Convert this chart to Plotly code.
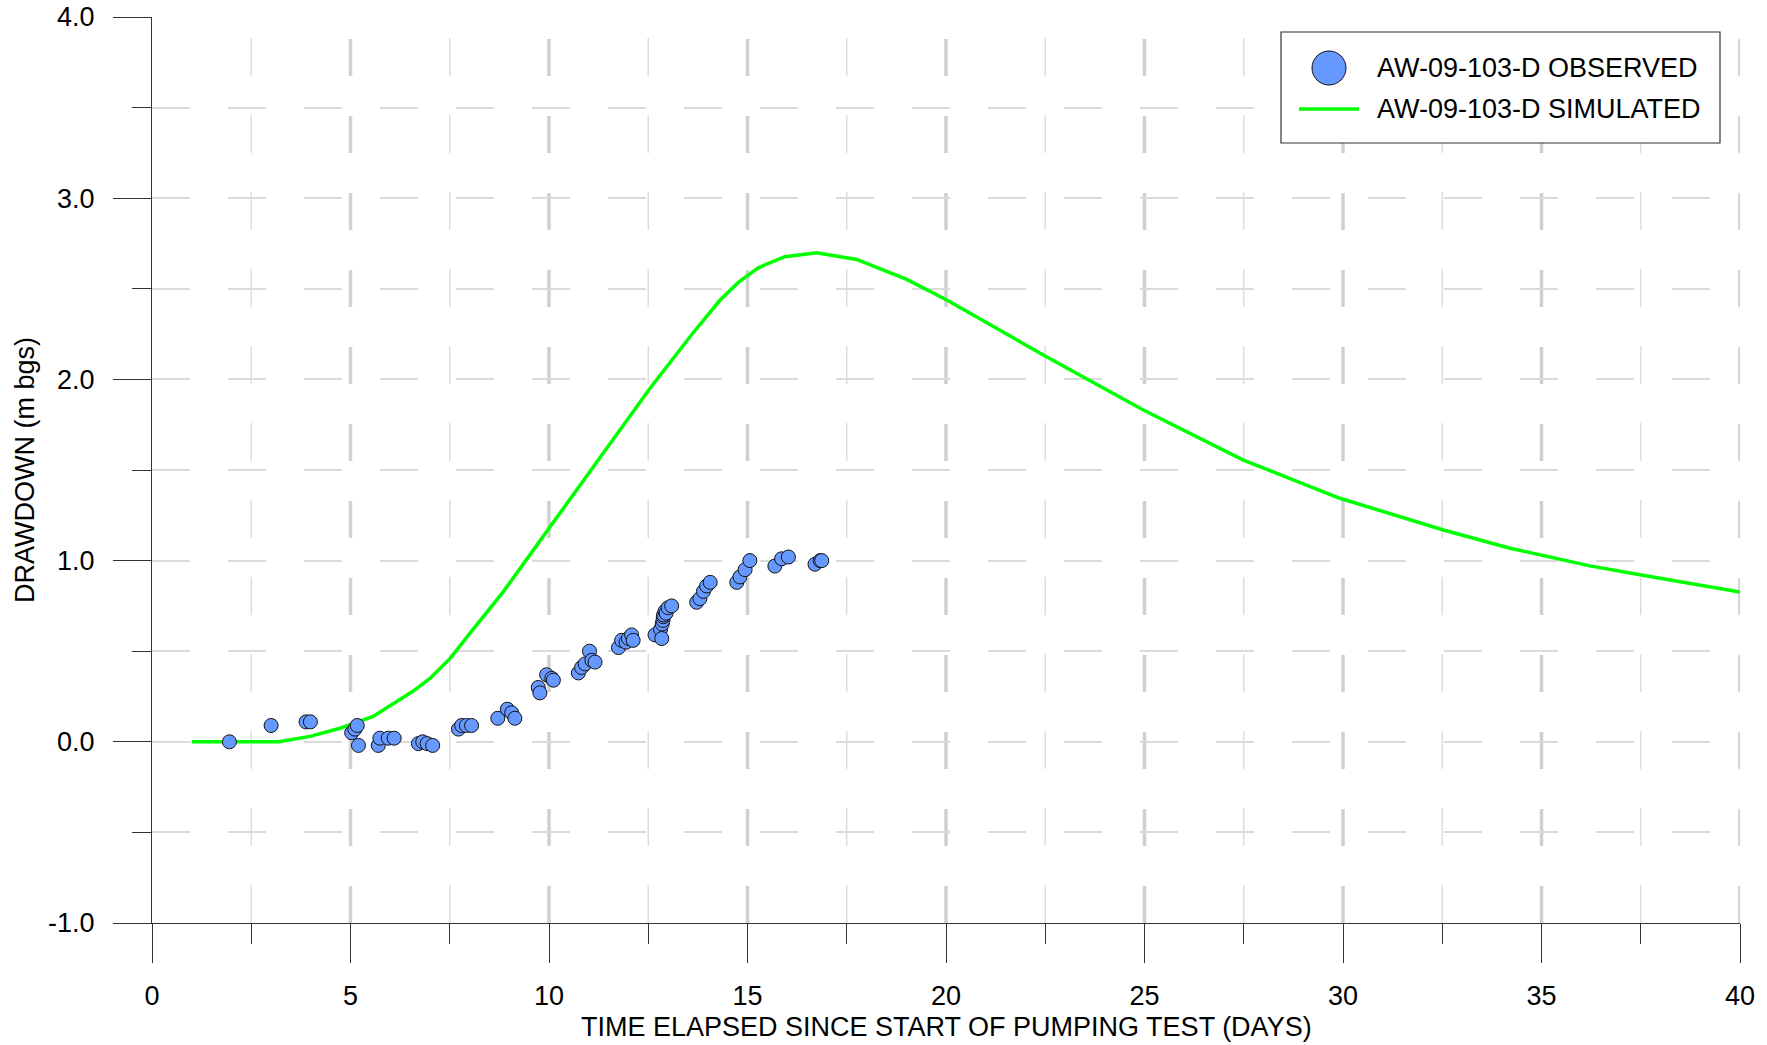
import plotly.graph_objects as go

# Observed drawdown at AW-09-103-D (days since start of pumping test, m bgs)
obs_days = [1.95, 3.00, 3.88, 3.99, 5.03, 5.11, 5.17, 5.20, 5.70, 5.74, 5.95, 6.10,
            6.71, 6.82, 6.93, 7.07, 7.72, 7.80, 7.92, 8.05, 8.71, 8.95, 9.06, 9.14,
            9.73, 9.77, 9.94, 10.07, 10.11, 10.74, 10.82, 10.91, 11.02, 11.08, 11.16,
            11.75, 11.83, 11.94, 12.00, 12.08, 12.12, 12.67, 12.81, 12.84, 12.85, 12.87,
            12.88, 12.89, 12.92, 12.95, 13.00, 13.09, 13.72, 13.80, 13.89, 13.97, 14.06,
            14.73, 14.81, 14.94, 15.06, 15.69, 15.86, 16.03, 16.70, 16.83, 16.87]
obs_drawdown = [0.00, 0.09, 0.11, 0.11, 0.05, 0.07, 0.09, -0.02, -0.02, 0.02, 0.02, 0.02,
                -0.01, 0.00, -0.01, -0.02, 0.07, 0.09, 0.09, 0.09, 0.13, 0.18, 0.16, 0.13,
                0.30, 0.27, 0.37, 0.35, 0.34, 0.38, 0.41, 0.43, 0.50, 0.45, 0.44,
                0.52, 0.56, 0.55, 0.57, 0.59, 0.56, 0.59, 0.62, 0.57, 0.65, 0.67,
                0.69, 0.70, 0.72, 0.71, 0.74, 0.75, 0.77, 0.79, 0.83, 0.86, 0.88,
                0.88, 0.91, 0.95, 1.00, 0.97, 1.01, 1.02, 0.98, 1.00, 1.00]

# Simulated drawdown at AW-09-103-D
sim_days = [1.0, 2.0, 3.2, 3.98, 4.74, 5.57, 5.83, 6.2, 6.58, 7.0, 7.51, 8.01, 8.85,
            9.94, 11.2, 12.54, 13.64, 14.31, 14.77, 15.27, 15.94, 16.74, 17.75, 19.01,
            20.02, 22.45, 24.97, 27.49, 29.92, 32.53, 34.21, 36.22, 37.73, 40.0]
sim_drawdown = [0.0, 0.0, 0.0, 0.03, 0.075, 0.14, 0.176, 0.225, 0.28, 0.35, 0.46, 0.60,
                0.829, 1.16, 1.54, 1.95, 2.26, 2.438, 2.535, 2.616, 2.677, 2.699, 2.662,
                2.552, 2.438, 2.135, 1.831, 1.555, 1.344, 1.169, 1.068, 0.971, 0.912,
                0.826]

# Axis ticks
x_major = [0, 5, 10, 15, 20, 25, 30, 35, 40]
x_minor = [2.5, 7.5, 12.5, 17.5, 22.5, 27.5, 32.5, 37.5]
y_major = [-1.0, 0.0, 1.0, 2.0, 3.0, 4.0]

legend_labels = ["AW-09-103-D OBSERVED", "AW-09-103-D SIMULATED"]
x_title = "TIME ELAPSED SINCE START OF PUMPING TEST (DAYS)"
y_title = "DRAWDOWN (m bgs)"

FONT = "Liberation Sans, Arial, sans-serif"
OBS_COLOR = "#6699FF"
SIM_COLOR = "#00FF00"

W, H = 1767, 1045
L, R, T, B = 152, 27, 17, 122
PW, PH = W - L - R, H - T - B


def px(xp):
    return (xp - L) / PW


def py(yp):
    return (H - B - yp) / PH


fig = go.Figure()

fig.add_trace(go.Scatter(
    x=sim_days, y=sim_drawdown, mode="lines", name=legend_labels[1],
    line=dict(color=SIM_COLOR, width=3.5), showlegend=False,
))
fig.add_trace(go.Scatter(
    x=obs_days, y=obs_drawdown, mode="markers", name=legend_labels[0],
    marker=dict(size=14, color=OBS_COLOR, line=dict(color="#111111", width=1)),
    showlegend=False,
))

shapes = []
# vertical dashed grid, drawn bottom-up so the dash pattern starts at the x axis
for xv in x_major[1:]:
    shapes.append(dict(type="line", xref="x", yref="y", x0=xv, x1=xv, y0=-1, y1=4,
                       line=dict(color="#D0D0D0", width=3.5, dash="37px,40px"),
                       layer="below"))
for xv in x_minor:
    shapes.append(dict(type="line", xref="x", yref="y", x0=xv, x1=xv, y0=-1, y1=4,
                       line=dict(color="#DDDDDD", width=1.5, dash="38px,39px"),
                       layer="below"))

# legend box
shapes.append(dict(type="rect", xref="paper", yref="paper",
                   x0=px(1281), x1=px(1720), y0=py(143), y1=py(32),
                   line=dict(color="#333333", width=1.2), fillcolor="white"))
shapes.append(dict(type="circle", xref="paper", yref="paper",
                   x0=px(1312), x1=px(1346), y0=py(85), y1=py(51),
                   line=dict(color="#111111", width=1), fillcolor=OBS_COLOR))
shapes.append(dict(type="line", xref="paper", yref="paper",
                   x0=px(1299), x1=px(1359), y0=py(109), y1=py(109),
                   line=dict(color=SIM_COLOR, width=3.5)))

annotations = [
    dict(text=legend_labels[0], xref="paper", yref="paper", x=px(1375), y=py(68),
         xanchor="left", yanchor="middle", showarrow=False,
         font=dict(family=FONT, size=27, color="black")),
    dict(text=legend_labels[1], xref="paper", yref="paper", x=px(1375), y=py(109),
         xanchor="left", yanchor="middle", showarrow=False,
         font=dict(family=FONT, size=27, color="black")),
    dict(text=x_title, xref="paper", yref="paper", x=0.5, y=py(1027),
         xanchor="center", yanchor="middle", showarrow=False,
         font=dict(family=FONT, size=27, color="black")),
    dict(text=y_title, xref="paper", yref="paper", x=px(25), y=0.5, textangle=-90,
         xanchor="center", yanchor="middle", showarrow=False,
         font=dict(family=FONT, size=27, color="black")),
]

fig.update_layout(
    width=W, height=H,
    margin=dict(l=L, r=R, t=T, b=B, autoexpand=False),
    paper_bgcolor="white", plot_bgcolor="white",
    font=dict(family=FONT, size=27, color="black"),
    shapes=shapes, annotations=annotations,
    showlegend=False,
)

fig.update_xaxes(
    range=[0, 40], tickmode="array", tickvals=x_major,
    ticktext=[str(v) for v in x_major],
    showline=True, linecolor="#333333", linewidth=1.2,
    ticks="outside", ticklen=39, tickwidth=1, tickcolor="#333333",
    minor=dict(tickmode="array", tickvals=x_minor, ticks="outside", ticklen=20,
               tickwidth=1, tickcolor="#333333", showgrid=False),
    showgrid=False, zeroline=False,
    tickfont=dict(family=FONT, size=27, color="black"),
    ticklabelstandoff=9,
)

fig.update_yaxes(
    range=[-1, 4], tickmode="array", tickvals=y_major,
    ticktext=[f"{v:.1f}" for v in y_major],
    showline=True, linecolor="#333333", linewidth=1.2,
    ticks="outside", ticklen=38, tickwidth=1, tickcolor="#333333",
    minor=dict(dtick=0.5, tick0=0, ticks="outside", ticklen=19, tickwidth=1,
               tickcolor="#333333", showgrid=True, gridcolor="#DADADA",
               gridwidth=1.5, griddash="38px,38px"),
    showgrid=True, gridcolor="#DADADA", gridwidth=1.5, griddash="38px,38px",
    zeroline=False,
    tickfont=dict(family=FONT, size=27, color="black"),
    ticklabelstandoff=13,
)

fig.write_html("out.html")
